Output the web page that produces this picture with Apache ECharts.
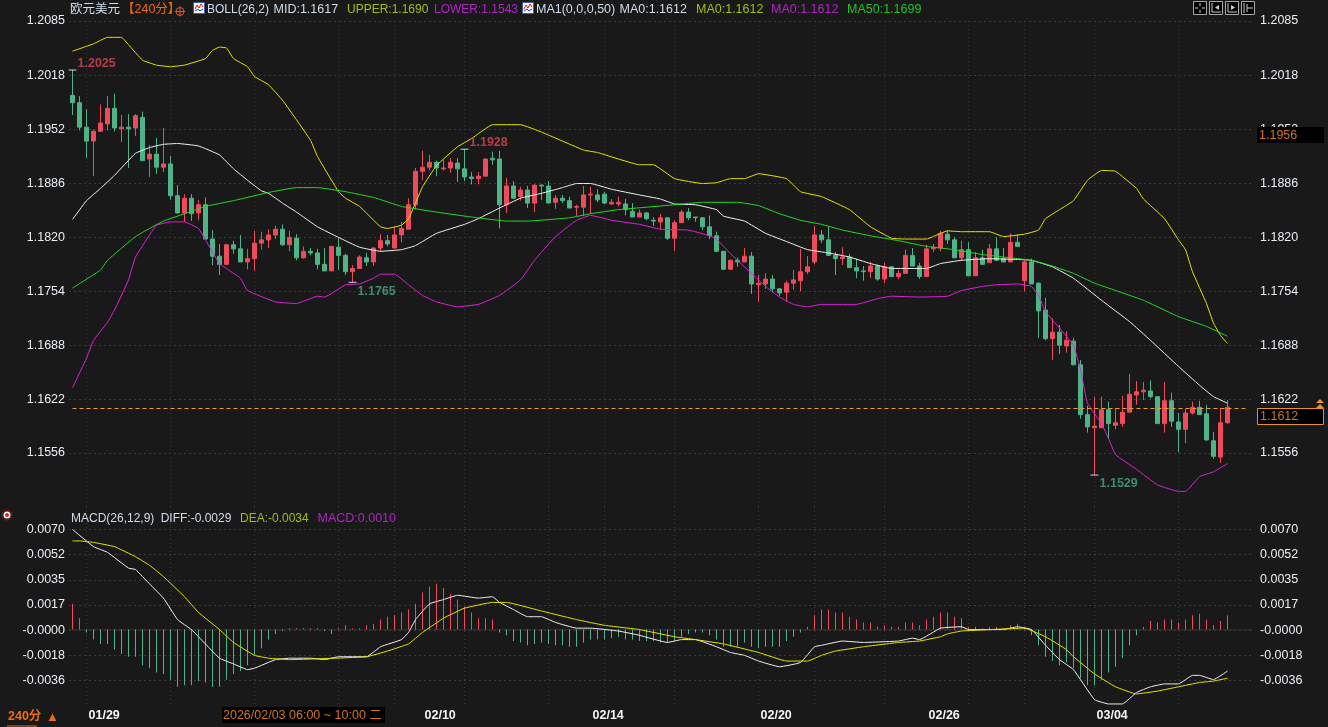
<!DOCTYPE html>
<html>
<head>
<meta charset="utf-8">
<title>EURUSD 240</title>
<script src="https://cdn.jsdelivr.net/npm/echarts@6/dist/echarts.min.js"></script>
<style>
html, body { margin: 0; padding: 0; background: #191919; }
#main { width: 1328px; height: 727px; }
</style>
</head>
<body>
<div id="main"></div>
<script>
// candles
var opens = [
1.1994,1.1985,1.1955,1.1938,1.1950,1.1959,1.1978,1.1953,1.1955,1.1954,
1.1967,1.1916,1.1922,1.1906,1.1910,1.1871,1.1850,1.1868,1.1850,1.1860,
1.1818,1.1797,1.1787,1.1811,1.1806,1.1790,1.1794,1.1813,1.1817,1.1823,
1.1830,1.1811,1.1819,1.1795,1.1803,1.1801,1.1787,1.1779,1.1808,1.1798,
1.1778,1.1782,1.1795,1.1790,1.1807,1.1816,1.1807,1.1823,1.1830,1.1860,
1.1901,1.1906,1.1912,1.1904,1.1905,1.1911,1.1904,1.1894,1.1892,1.1895,
1.1917,1.1916,1.1860,1.1883,1.1870,1.1878,1.1862,1.1884,1.1883,1.1863,
1.1868,1.1865,1.1857,1.1857,1.1872,1.1872,1.1873,1.1861,1.1861,1.1861,
1.1852,1.1845,1.1850,1.1841,1.1839,1.1844,1.1819,1.1838,1.1851,1.1845,
1.1844,1.1833,1.1822,1.1803,1.1781,1.1792,1.1790,1.1797,1.1762,1.1763,
1.1769,1.1757,1.1753,1.1764,1.1767,1.1778,1.1790,1.1823,1.1817,1.1798,
1.1794,1.1796,1.1783,1.1779,1.1778,1.1785,1.1769,1.1784,1.1772,1.1776,
1.1798,1.1785,1.1772,1.1806,1.1807,1.1824,1.1817,1.1795,1.1805,1.1773,
1.1795,1.1789,1.1806,1.1794,1.1790,1.1814,1.1767,1.1790,1.1764,1.1731,
1.1696,1.1704,1.1687,1.1693,1.1664,1.1603,1.1587,1.1587,1.1609,1.1590,
1.1592,1.1606,1.1627,1.1631,1.1632,1.1625,1.1592,1.1620,1.1594,1.1585,
1.1605,1.1612,1.1604,1.1571,1.1551,1.1593];
var closes = [
1.1985,1.1955,1.1938,1.1950,1.1960,1.1978,1.1954,1.1955,1.1953,1.1969,
1.1914,1.1922,1.1906,1.1910,1.1871,1.1850,1.1868,1.1849,1.1860,1.1818,
1.1797,1.1787,1.1811,1.1806,1.1790,1.1794,1.1813,1.1817,1.1823,1.1830,
1.1811,1.1820,1.1795,1.1803,1.1801,1.1787,1.1779,1.1809,1.1798,1.1778,
1.1782,1.1796,1.1790,1.1807,1.1816,1.1812,1.1823,1.1831,1.1860,1.1901,
1.1906,1.1912,1.1905,1.1905,1.1912,1.1904,1.1894,1.1892,1.1895,1.1916,
1.1915,1.1860,1.1883,1.1868,1.1878,1.1862,1.1884,1.1883,1.1862,1.1868,
1.1865,1.1856,1.1858,1.1872,1.1873,1.1866,1.1862,1.1863,1.1863,1.1854,
1.1845,1.1850,1.1843,1.1840,1.1844,1.1819,1.1838,1.1851,1.1844,1.1844,
1.1833,1.1822,1.1803,1.1781,1.1792,1.1790,1.1797,1.1763,1.1764,1.1769,
1.1757,1.1752,1.1764,1.1768,1.1778,1.1784,1.1823,1.1817,1.1798,1.1794,
1.1796,1.1783,1.1779,1.1778,1.1785,1.1769,1.1784,1.1772,1.1776,1.1798,
1.1785,1.1772,1.1806,1.1808,1.1825,1.1817,1.1795,1.1805,1.1773,1.1795,
1.1787,1.1806,1.1792,1.1790,1.1814,1.1809,1.1790,1.1763,1.1730,1.1696,
1.1704,1.1688,1.1694,1.1664,1.1603,1.1588,1.1589,1.1609,1.1592,1.1593,
1.1606,1.1628,1.1631,1.1633,1.1625,1.1592,1.1620,1.1595,1.1585,1.1605,
1.1612,1.1603,1.1572,1.1552,1.1593,1.1612];
var lows = [
1.1970,1.1951,1.1917,1.1895,1.1950,1.1951,1.1950,1.1937,1.1905,1.1944,
1.1914,1.1894,1.1898,1.1900,1.1866,1.1849,1.1839,1.1840,1.1841,1.1818,
1.1786,1.1774,1.1786,1.1800,1.1790,1.1781,1.1779,1.1805,1.1807,1.1818,
1.1810,1.1803,1.1792,1.1794,1.1798,1.1781,1.1779,1.1779,1.1780,1.1774,
1.1765,1.1782,1.1785,1.1785,1.1803,1.1809,1.1807,1.1814,1.1830,1.1854,
1.1890,1.1902,1.1895,1.1902,1.1899,1.1888,1.1889,1.1885,1.1885,1.1895,
1.1909,1.1831,1.1850,1.1867,1.1865,1.1856,1.1851,1.1866,1.1862,1.1855,
1.1862,1.1856,1.1846,1.1846,1.1849,1.1863,1.1861,1.1860,1.1858,1.1847,
1.1845,1.1845,1.1841,1.1834,1.1829,1.1817,1.1803,1.1838,1.1841,1.1839,
1.1829,1.1818,1.1802,1.1780,1.1780,1.1784,1.1790,1.1751,1.1741,1.1757,
1.1753,1.1748,1.1741,1.1756,1.1754,1.1775,1.1787,1.1813,1.1798,1.1774,
1.1786,1.1783,1.1770,1.1767,1.1770,1.1767,1.1764,1.1772,1.1769,1.1776,
1.1785,1.1769,1.1772,1.1802,1.1803,1.1812,1.1795,1.1791,1.1773,1.1773,
1.1787,1.1789,1.1791,1.1790,1.1790,1.1809,1.1754,1.1763,1.1697,1.1694,
1.1670,1.1677,1.1679,1.1664,1.1598,1.1581,1.1529,1.1587,1.1573,1.1585,
1.1588,1.1606,1.1615,1.1621,1.1623,1.1592,1.1581,1.1588,1.1557,1.1568,
1.1603,1.1603,1.1571,1.1549,1.1544,1.1592];
var highs = [
1.2025,1.1993,1.1977,1.1952,1.1983,1.1993,1.1996,1.1970,1.1971,1.1971,
1.1974,1.1933,1.1942,1.1954,1.1920,1.1884,1.1873,1.1873,1.1866,1.1869,
1.1829,1.1812,1.1812,1.1816,1.1823,1.1806,1.1828,1.1827,1.1830,1.1834,
1.1836,1.1828,1.1824,1.1809,1.1807,1.1806,1.1807,1.1809,1.1819,1.1800,
1.1786,1.1798,1.1801,1.1808,1.1824,1.1823,1.1833,1.1839,1.1868,1.1905,
1.1926,1.1921,1.1914,1.1915,1.1917,1.1917,1.1928,1.1900,1.1900,1.1917,
1.1925,1.1926,1.1893,1.1889,1.1882,1.1883,1.1885,1.1885,1.1889,1.1872,
1.1872,1.1870,1.1860,1.1883,1.1882,1.1879,1.1876,1.1867,1.1870,1.1867,
1.1862,1.1854,1.1851,1.1845,1.1849,1.1844,1.1841,1.1854,1.1856,1.1845,
1.1845,1.1847,1.1827,1.1803,1.1793,1.1795,1.1807,1.1802,1.1774,1.1776,
1.1774,1.1758,1.1767,1.1780,1.1806,1.1797,1.1834,1.1829,1.1833,1.1802,
1.1808,1.1800,1.1794,1.1785,1.1790,1.1787,1.1789,1.1785,1.1780,1.1805,
1.1807,1.1789,1.1811,1.1812,1.1828,1.1829,1.1820,1.1816,1.1814,1.1802,
1.1805,1.1812,1.1820,1.1807,1.1825,1.1824,1.1792,1.1794,1.1765,1.1746,
1.1721,1.1713,1.1705,1.1697,1.1670,1.1614,1.1625,1.1625,1.1619,1.1611,
1.1626,1.1653,1.1644,1.1643,1.1645,1.1625,1.1643,1.1630,1.1605,1.1610,
1.1619,1.1620,1.1615,1.1582,1.1611,1.1621];

// boll / ma lines as [candle index, value], read every few candles
var upper = [[0,1.2048],[2,1.2054],[3,1.2057],[5,1.2065],[7,1.2065],[8,1.2056],[10,1.2037],[12,1.2031],[14,1.2029],[16,1.2031],[19,1.2039],[20,1.2049],[21,1.2053],[22,1.2052],[23,1.2039],[25,1.2029],[26,1.2017],[28,1.2007],[30,1.1988],[32,1.1964],[34,1.1939],[35,1.1919],[38,1.1876],[39,1.1868],[41,1.1858],[44,1.1833],[45,1.1831],[47,1.1835],[48,1.1843],[49,1.1862],[50,1.1882],[52,1.1908],[55,1.1931],[57,1.1941],[60,1.1958],[64,1.1958],[67,1.1949],[73,1.1927],[75,1.1924],[81,1.1909],[83,1.1909],[86,1.1892],[90,1.1886],[92,1.1887],[94,1.1892],[96,1.1892],[98,1.1898],[102,1.1892],[104,1.1876],[107,1.1870],[111,1.1854],[114,1.1833],[117,1.1819],[119,1.1818],[122,1.1818],[124,1.1825],[125,1.1828],[127,1.1827],[131,1.1827],[133,1.1821],[136,1.1824],[138,1.1829],[139,1.1843],[141,1.1854],[143,1.1865],[145,1.1890],[147,1.1902],[149,1.1901],[152,1.1880],[153,1.1867],[156,1.1843],[158,1.1817],[159,1.1805],[160,1.1778],[162,1.1739],[163,1.1715],[164,1.1700],[165,1.1690]];
var mid = [[0,1.1842],[2,1.1865],[4,1.1880],[6,1.1896],[9,1.1923],[11,1.1930],[13,1.1934],[15,1.1935],[18,1.1932],[21,1.1921],[23,1.1904],[25,1.1890],[27,1.1877],[28,1.1874],[30,1.1862],[32,1.1851],[35,1.1833],[38,1.1820],[41,1.1808],[44,1.1803],[47,1.1805],[49,1.1810],[52,1.1825],[56,1.1836],[58,1.1843],[61,1.1856],[64,1.1868],[67,1.1874],[70,1.1881],[72,1.1886],[74,1.1886],[77,1.1879],[81,1.1872],[84,1.1867],[86,1.1861],[89,1.1860],[92,1.1854],[93,1.1846],[96,1.1840],[99,1.1825],[102,1.1815],[105,1.1805],[108,1.1801],[111,1.1796],[114,1.1788],[117,1.1782],[122,1.1782],[124,1.1788],[127,1.1792],[131,1.1794],[135,1.1793],[137,1.1792],[140,1.1784],[143,1.1770],[147,1.1743],[151,1.1717],[154,1.1694],[158,1.1662],[161,1.1639],[163,1.1625],[165,1.1617]];
var lower = [[0,1.1636],[2,1.1672],[3,1.1694],[5,1.1716],[6,1.1731],[8,1.1768],[9,1.1796],[11,1.1823],[12,1.1835],[14,1.1839],[16,1.1839],[18,1.1831],[19,1.1817],[21,1.1788],[24,1.1770],[25,1.1755],[29,1.1741],[32,1.1739],[35,1.1748],[36,1.1747],[39,1.1762],[41,1.1763],[43,1.1770],[44,1.1775],[46,1.1775],[48,1.1762],[50,1.1749],[52,1.1741],[55,1.1735],[58,1.1738],[61,1.1749],[64,1.1768],[66,1.1792],[69,1.1821],[72,1.1841],[74,1.1847],[77,1.1841],[81,1.1836],[84,1.1830],[88,1.1829],[91,1.1822],[92,1.1818],[94,1.1800],[95,1.1792],[97,1.1776],[99,1.1760],[101,1.1747],[103,1.1738],[105,1.1735],[107,1.1738],[110,1.1738],[112,1.1738],[115,1.1745],[117,1.1748],[121,1.1747],[125,1.1748],[127,1.1755],[130,1.1760],[132,1.1762],[135,1.1763],[137,1.1760],[138,1.1749],[139,1.1729],[141,1.1709],[143,1.1688],[144,1.1658],[145,1.1617],[147,1.1592],[148,1.1574],[149,1.1554],[152,1.1536],[155,1.1517],[158,1.1509],[159,1.1509],[161,1.1527],[163,1.1533],[165,1.1543]];
var ma50 = [[0,1.1758],[4,1.1780],[5,1.1792],[9,1.1821],[11,1.1831],[13,1.1840],[16,1.1849],[19,1.1858],[23,1.1865],[28,1.1875],[32,1.1881],[35,1.1881],[39,1.1876],[43,1.1869],[47,1.1858],[52,1.1851],[57,1.1845],[62,1.1840],[65,1.1840],[71,1.1844],[74,1.1849],[78,1.1854],[82,1.1857],[86,1.1860],[90,1.1863],[95,1.1863],[98,1.1859],[101,1.1849],[104,1.1841],[107,1.1836],[110,1.1829],[114,1.1822],[118,1.1816],[122,1.1809],[126,1.1805],[130,1.1799],[133,1.1796],[137,1.1792],[140,1.1785],[143,1.1776],[146,1.1764],[149,1.1755],[153,1.1743],[158,1.1723],[162,1.1711],[165,1.1699]];

// macd panel
var macdBars = [
.0018,.0008,-.0002,-.0007,-.0010,-.0010,-.0014,-.0017,-.0019,-.0019,
-.0025,-.0027,-.0030,-.0031,-.0035,-.0040,-.0039,-.0039,-.0036,-.0037,
-.0040,-.0040,-.0035,-.0031,-.0029,-.0025,-.0018,-.0013,-.0007,-.0003,
-.0001,.0001,.0001,.0001,.0001,.0001,-.0001,-.0003,.0001,.0003,
.0001,.0001,.0003,.0004,.0007,.0009,.0010,.0012,.0014,.0018,
.0026,.0030,.0032,.0029,.0025,.0021,.0016,.0012,.0008,.0008,
.0007,-.0002,-.0004,-.0008,-.0009,-.0011,-.0010,-.0009,-.0010,-.0011,
-.0011,-.0012,-.0012,-.0009,-.0007,-.0007,-.0007,-.0006,-.0005,-.0007,
-.0007,-.0008,-.0008,-.0008,-.0009,-.0009,-.0008,-.0005,-.0003,-.0002,
-.0002,-.0004,-.0007,-.0012,-.0012,-.0012,-.0009,-.0012,-.0013,-.0012,
-.0012,-.0012,-.0008,-.0005,-.0002,.0002,.0010,.0014,.0014,.0012,
.0012,.0009,.0007,.0005,.0005,.0002,.0003,.0002,.0002,.0005,
.0005,.0003,.0007,.0009,.0012,.0012,.0009,.0008,.0002,.0002,
.0001,.0002,.0002,.0001,.0003,.0004,.0002,-.0004,-.0011,-.0019,
-.0022,-.0025,-.0023,-.0027,-.0034,-.0039,-.0039,-.0035,-.0030,-.0026,
-.0020,-.0011,-.0004,.0002,.0006,.0005,.0007,.0007,.0005,.0007,
.0010,.0011,.0007,.0003,.0006,.0010];
var diff = [[0,.0070],[3,.0058],[5,.0054],[8,.0043],[9,.0042],[11,.0032],[13,.0022],[15,.0007],[17,.0000],[18,-.0005],[21,-.0020],[23,-.0024],[25,-.0028],[26,-.0027],[29,-.0021],[31,-.0020],[34,-.0020],[36,-.0021],[38,-.0019],[42,-.0019],[44,-.0012],[47,-.0007],[48,-.0002],[49,.0007],[51,.0018],[53,.0021],[55,.0024],[58,.0022],[60,.0023],[61,.0019],[63,.0014],[65,.0009],[67,.0009],[69,.0005],[72,.0001],[74,.0001],[78,-.0001],[81,-.0004],[85,-.0009],[87,-.0007],[89,-.0007],[92,-.0012],[94,-.0016],[96,-.0018],[98,-.0022],[101,-.0026],[104,-.0023],[106,-.0012],[107,-.0011],[110,-.0008],[113,-.0009],[118,-.0008],[120,-.0006],[121,-.0007],[124,.0001],[127,.0002],[128,.0000],[133,.0000],[135,.0002],[137,.0000],[139,-.0011],[141,-.0021],[143,-.0028],[146,-.0049],[148,-.0052],[150,-.0052],[152,-.0044],[154,-.0040],[156,-.0038],[158,-.0038],[160,-.0032],[161,-.0032],[163,-.0035],[165,-.0029]];
var dea = [[0,.0062],[1,.0062],[3,.0061],[6,.0058],[9,.0051],[11,.0045],[13,.0037],[16,.0023],[18,.0012],[21,.0000],[23,-.0009],[26,-.0018],[28,-.0020],[31,-.0021],[42,-.0019],[45,-.0015],[48,-.0010],[50,-.0002],[53,.0008],[56,.0015],[60,.0019],[62,.0019],[67,.0013],[72,.0007],[76,.0003],[81,.0000],[86,-.0005],[89,-.0007],[93,-.0010],[98,-.0016],[102,-.0022],[105,-.0022],[107,-.0018],[109,-.0015],[113,-.0012],[118,-.0009],[121,-.0008],[124,-.0005],[125,-.0003],[127,-.0001],[131,.0000],[136,.0001],[139,-.0005],[142,-.0014],[143,-.0019],[146,-.0031],[149,-.0040],[152,-.0045],[155,-.0043],[158,-.0040],[161,-.0037],[163,-.0036],[165,-.0034]];

// axes
var priceTicks = [1.2085, 1.2018, 1.1952, 1.1886, 1.1820, 1.1754, 1.1688, 1.1622, 1.1556];
var macdTicks = [.0070, .00524, .00348, .00172, -.00004, -.0018, -.00356];
var dateTickIndex = [2, 50, 74, 98, 122, 146];
var dateTickLabels = ['01/29', '02/10', '02/14', '02/20', '02/26', '03/04'];
var vGridIndex = [2, 14, 26, 38, 46, 56, 68, 76, 86, 98, 106, 116, 128, 136, 146, 158];
var extremes = [[0, 1.2025, 'high'], [40, 1.1765, 'low'], [56, 1.1928, 'high'], [146, 1.1529, 'low']];
var lastPriceText = '1.1612';
var lastPriceLine = [[0, 1.16105], [168, 1.16105]];
var crossPrice = '1.1956';
var crossTime = '2026/02/03 06:00 ~ 10:00 二';

var UP = '#ee4b5d', DOWN = '#4fb388', FONT = '"Liberation Sans", Arial, "Noto Sans CJK SC", sans-serif';
var LABEL = '#e8eef5', GRIDC = '#3a3a3a';
var SLOTS = 169; // 166 candles + 3 empty on the right

var categories = [];
for (var i = 0; i < SLOTS; i++) {
    var k = dateTickIndex.indexOf(i);
    categories.push(k >= 0 ? dateTickLabels[k] : '');
}

var candles = [];
for (var i = 0; i < opens.length; i++) {
    candles.push([opens[i], closes[i], lows[i], highs[i]]);
}

function lineSeries(name, data, color, xi, yi) {
    return {
        name: name, type: 'line', data: data, xAxisIndex: xi, yAxisIndex: yi,
        showSymbol: false, smooth: 0.1, silent: true, z: 4,
        lineStyle: { color: color, width: 1 }
    };
}

function xAxisFor(gridIndex, withLabels) {
    return {
        type: 'category', gridIndex: gridIndex, data: categories, boundaryGap: true,
        axisTick: { show: false },
        axisLine: { show: withLabels, lineStyle: { color: '#2c2c2c' } },
        axisLabel: {
            show: withLabels, align: 'left', margin: 3, padding: [0, 0, 0, 2], color: '#f2f5f8',
            fontFamily: FONT, fontSize: 12.5, fontWeight: 'bold',
            interval: function (idx) { return dateTickIndex.indexOf(idx) >= 0; }
        },
        splitLine: {
            show: true, alignWithLabel: true,
            interval: function (idx) { return vGridIndex.indexOf(idx) >= 0; },
            lineStyle: { color: GRIDC, type: [1, 3] }
        }
    };
}

function yAxisFor(gridIndex, side, ticks, lo, hi, margin) {
    return {
        type: 'value', gridIndex: gridIndex, position: side, min: lo, max: hi, scale: true,
        axisLine: { show: false },
        axisTick: { show: false, customValues: ticks },
        axisLabel: {
            customValues: ticks, color: LABEL, fontFamily: FONT, fontSize: 12.5, margin: margin,
            showMinLabel: true, showMaxLabel: true,
            formatter: function (v) { return v.toFixed(4); }
        },
        splitLine: { show: side == 'left', lineStyle: { color: GRIDC, type: [2, 3] } }
    };
}

function txt(x, y, s, color, extra) {
    var st = { x: x, y: y, text: s, fill: color, font: '12.5px ' + FONT, verticalAlign: 'middle' };
    for (var k in extra || {}) { st[k] = extra[k]; }
    return { type: 'text', z: 30, style: st };
}

function box(x, y, w, h, fill, stroke) {
    return { type: 'rect', z: 20, shape: { x: x, y: y, width: w, height: h },
        style: { fill: fill, stroke: stroke || null, lineWidth: 1 } };
}

function seg(pts, color) {
    return { type: 'polyline', z: 31, shape: { points: pts }, style: { fill: null, stroke: color, lineWidth: 1 } };
}

function bollIcon(x, y) {
    return [
        box(x + 0.5, y + 0.5, 11, 11, '#f4f4f4', '#3a5fb0'),
        seg([[x + 2, y + 7], [x + 4, y + 3], [x + 6, y + 6], [x + 8, y + 2], [x + 10, y + 5]], '#d02020'),
        seg([[x + 2, y + 9], [x + 5, y + 7], [x + 7, y + 9], [x + 10, y + 7]], '#2040c0')
    ];
}

var small = { font: '12px ' + FONT };
var graphics = [
    txt(70, 10, '欧元美元', '#cfdceb'),
    txt(122, 10, '【240分】', '#f06a10'),
    { type: 'circle', z: 31, shape: { cx: 180, cy: 11.5, r: 4 }, style: { fill: null, stroke: '#e8551a', lineWidth: 1 } },
    seg([[175, 11.5], [185, 11.5]], '#e8551a'), seg([[180, 6.5], [180, 16.5]], '#e8551a'),
    txt(207, 10, 'BOLL(26,2)', '#cfdceb', small),
    txt(273.5, 10, 'MID:1.1617', '#cfdceb'),
    txt(347, 10, 'UPPER:1.1690', '#a3bd12', small),
    txt(434, 10, 'LOWER:1.1543', '#b026c4', small),
    txt(536, 10, 'MA1(0,0,0,50)', '#cfdceb'),
    txt(619.5, 10, 'MA0:1.1612', '#cfdceb'),
    txt(696, 10, 'MA0:1.1612', '#a3bd12'),
    txt(771, 10, 'MA0:1.1612', '#b026c4'),
    txt(847, 10, 'MA50:1.1699', '#1fc42a'),
    txt(71, 519, 'MACD(26,12,9)', '#cfdceb', small),
    txt(160.7, 519, 'DIFF:-0.0029', '#cfdceb', small),
    txt(240, 519, 'DEA:-0.0034', '#a3bd12', small),
    txt(317.5, 519, 'MACD:0.0010', '#b026c4'),
    // price flags on the right
    box(1257, 127, 67, 16, '#000'),
    txt(1259, 135.5, crossPrice, '#d0761c'),
    box(1257.5, 408.5, 66, 16, '#000', '#e8912d'),
    txt(1260, 417, lastPriceText, '#c57a24'),
    { type: 'polygon', z: 31, shape: { points: [[1316, 403], [1320, 399], [1324, 403]] }, style: { fill: '#e8912d' } },
    { type: 'polygon', z: 31, shape: { points: [[1316, 408], [1320, 404], [1324, 408]] }, style: { fill: '#e8912d' } },
    // bottom strip
    box(222, 707, 163, 16, '#000'),
    txt(223, 715.5, crossTime, '#d0761c'),
    txt(8, 717, '240分', '#f06a10', { font: 'bold 12.5px ' + FONT }),
    txt(46, 717, '▲', '#f06a10', { font: '13px ' + FONT }),
    seg([[7, 726], [37, 726]], '#f06a10'),
    // blinking dot beside macd
    { type: 'circle', z: 31, shape: { cx: 7, cy: 515, r: 5 }, style: { fill: null, stroke: '#e02020', lineWidth: 1, lineDash: [1, 1] } },
    { type: 'circle', z: 31, shape: { cx: 7, cy: 515, r: 3.5 }, style: { fill: '#fff' } },
    { type: 'circle', z: 32, shape: { cx: 7, cy: 515, r: 2 }, style: { fill: '#e02020' } }
].concat(bollIcon(193, 2), bollIcon(522, 2));

// chart tool buttons, top right
var btnX = [1193, 1209, 1225, 1241];
for (var i = 0; i < btnX.length; i++) {
    var bx = btnX[i];
    graphics.push(box(bx + 0.5, 1.5, 13, 13, '#000', '#a8a8a8'));
    if (i == 0) {
        graphics.push(seg([[bx + 2, 8], [bx + 5, 8]], '#ccc'), seg([[bx + 9, 8], [bx + 12, 8]], '#ccc'),
            seg([[bx + 7, 3], [bx + 7, 6]], '#ccc'), seg([[bx + 7, 10], [bx + 7, 13]], '#ccc'));
    } else if (i == 3) {
        graphics.push(seg([[bx + 3, 3], [bx + 3, 13]], '#ccc'), seg([[bx + 6, 8], [bx + 12, 8]], '#ccc'),
            seg([[bx + 6, 4], [bx + 6, 12]], '#ccc'));
    } else {
        graphics.push(seg([[bx + 3, 3], [bx + 3, 12], [bx + 12, 12]], '#ccc'));
        graphics.push({ type: 'polygon', z: 31, shape: { points: i == 1 ? [[bx + 10, 5], [bx + 10, 10], [bx + 6, 7.5]] : [[bx + 6, 5], [bx + 6, 10], [bx + 10, 7.5]] }, style: { fill: '#ccc' } });
    }
}

var extremeData = extremes.map(function (e) {
    var isHigh = e[2] == 'high';
    return {
        value: [e[0], e[1]],
        label: {
            show: true, formatter: e[1].toFixed(4), position: [9, isHigh ? -12 : 3],
            color: isHigh ? '#e04555' : '#4aa583', fontFamily: FONT, fontSize: 12.5, fontWeight: 'bold'
        }
    };
});

var priceLine = lineSeries('last', lastPriceLine, '#f09a30', 0, 0);
priceLine.smooth = false;
priceLine.lineStyle.type = [4, 3];
priceLine.z = 5;

var option = {
    backgroundColor: '#191919',
    animation: false,
    textStyle: { fontFamily: FONT },
    grid: [
        { left: 69, width: 1183, top: 21, height: 486 },
        { left: 69, width: 1183, top: 507, height: 199 }
    ],
    xAxis: [xAxisFor(0, false), xAxisFor(1, true)],
    yAxis: [
        yAxisFor(0, 'left', priceTicks, 1.14899, 1.2085, 4),
        yAxisFor(0, 'right', priceTicks, 1.14899, 1.2085, 8),
        yAxisFor(1, 'left', macdTicks, -.005343, .008573, 4),
        yAxisFor(1, 'right', macdTicks, -.005343, .008573, 8)
    ],
    series: [
        {
            name: 'k', type: 'candlestick', data: candles, xAxisIndex: 0, yAxisIndex: 0, barWidth: 5, silent: true, z: 3,
            itemStyle: { color: UP, color0: DOWN, borderColor: UP, borderColor0: DOWN, borderWidth: 1 }
        },
        lineSeries('upper', upper, '#e6e600', 0, 0),
        lineSeries('mid', mid, '#f2f2f2', 0, 0),
        lineSeries('lower', lower, '#e020e0', 0, 0),
        lineSeries('ma50', ma50, '#1fdc1f', 0, 0),
        priceLine,
        {
            name: 'extreme', type: 'scatter', data: extremeData, xAxisIndex: 0, yAxisIndex: 0, silent: true, z: 6,
            symbol: 'rect', symbolSize: [8, 1], itemStyle: { color: '#fff' }
        },
        {
            name: 'macd', type: 'bar', data: macdBars, xAxisIndex: 1, yAxisIndex: 2, barWidth: 1, silent: true, z: 3,
            itemStyle: { color: function (p) { return p.value >= 0 ? UP : DOWN; } }
        },
        lineSeries('diff', diff, '#f2f2f2', 1, 2),
        lineSeries('dea', dea, '#e6e600', 1, 2)
    ],
    graphic: graphics
};

var myChart = echarts.init(document.getElementById('main'), null, { renderer: 'canvas' });
myChart.setOption(option);
</script>
</body>
</html>
